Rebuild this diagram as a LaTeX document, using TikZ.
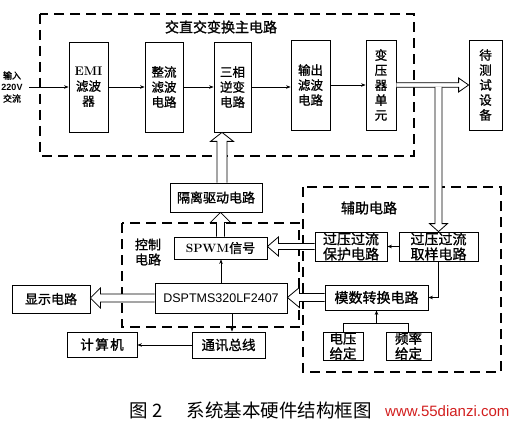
\documentclass[tikz,border=0pt]{standalone}
\usepackage{fontspec}
\setsansfont{Liberation Sans}
\newfontfamily\cjk[FakeBold=1.2]{Noto Sans CJK SC}
\newfontfamily\cjkr{Noto Sans CJK SC}
\usetikzlibrary{calc,arrows.meta}
\definecolor{wmred}{RGB}{210,30,30}
\tikzset{
 box/.style={draw, line width=0.8pt, inner sep=0pt, align=center, font=\cjk\fontsize{12.5}{15}\selectfont},
 dbox/.style={line width=1.2pt, dash pattern=on 10pt off 6pt},
 thinarr/.style={line width=0.7pt, -{Stealth[length=4.5pt,width=3.5pt]}},
 hollowline/.style={draw, fill=white, line width=0.8pt, line join=miter},
 lbl/.style={inner sep=0pt, align=center, font=\cjk\fontsize{13}{15}\selectfont}
}
\newcommand\hollowarr[5]{%
 \coordinate (hh) at ($(#2)!#5!(#1)$);
 \filldraw[hollowline] ($(#1)!#3!90:(#2)$) -- ($(hh)!#3!90:(#2)$) -- ($(hh)!#4!90:(#2)$) -- (#2) -- ($(hh)!#4!-90:(#2)$) -- ($(hh)!#3!-90:(#2)$) -- ($(#1)!#3!-90:(#2)$);
}
\begin{document}
\begin{tikzpicture}[x=1pt,y=-1pt]
\useasboundingbox (0,0) rectangle (519,422);
% main converter
\draw[dbox] (40,14) rectangle (414,156);
\node[lbl, font=\cjk\fontsize{14}{16}\selectfont] (t1) at (221,27) {交直交变换主电路};
\node[box, minimum width=39pt, minimum height=90pt] (emi) at (88.5,87) {{\rmfamily\bfseries\fontsize{12.5}{15}\selectfont EMI}\\滤波\\器};
\node[box, minimum width=38pt, minimum height=90pt] (zl) at (164,87) {整流\\滤波\\电路};
\node[box, minimum width=37pt, minimum height=90pt] (nb) at (232.5,87) {三相\\逆变\\电路};
\node[box, minimum width=39pt, minimum height=90pt] (sc) at (310.5,85) {输出\\滤波\\电路};
\node[box, minimum width=30pt, minimum height=90pt] (tr) at (381,85) {变\\压\\器\\单\\元};
\node[box, minimum width=33pt, minimum height=90pt] (dev) at (485.5,85) {待\\测\\试\\设\\备};
\node[lbl, font=\cjk\fontsize{9}{11.5}\selectfont] (inl) at (12,87) {输入\\{\sffamily\bfseries 220V}\\交流};
\coordinate (inp) at (29,87);
\draw[thinarr] (inp) -- (emi.west);
\draw[thinarr] (emi.east) -- (zl.west);
\draw[thinarr] (zl.east) -- (nb.west);
\draw[thinarr] (nb.east) -- (nb.east -| sc.west);
\draw[thinarr] (sc.east) -- (tr.west);
% control
\draw[dbox] (122,223) rectangle (299,327);
\node[lbl] (kz) at (148,252) {控制\\电路};
\node[box, minimum width=92pt, minimum height=29pt, font=\cjk\fontsize{13}{15}\selectfont] (gl) at (216,197.5) {隔离驱动电路};
\node[box, minimum width=93pt, minimum height=22pt, font=\cjk\fontsize{13}{15}\selectfont] (spwm) at (220.5,248) {{\rmfamily\bfseries\fontsize{12}{14}\selectfont SPWM}信号};
\node[box, minimum width=132pt, minimum height=30pt, font=\sffamily\fontsize{12.5}{15}\selectfont] (dsp) at (221,298) {DSPTMS320LF2407};
\node[box, minimum width=78pt, minimum height=28pt, font=\cjk\fontsize{13}{15}\selectfont] (disp) at (51,299) {显示电路};
\node[box, minimum width=73pt, minimum height=26pt, font=\cjk\fontsize{13.5}{15}\selectfont] (bus) at (228.5,345) {通讯总线};
\node[box, minimum width=70pt, minimum height=25pt, font=\cjk\fontsize{13.5}{15}\selectfont] (pc) at (102,344.5) {计\hspace{1.5pt}算\hspace{1.5pt}机};
% auxiliary
\draw[dbox] (303,187) rectangle (501,372);
\node[lbl, font=\cjk\fontsize{14}{16}\selectfont] (fz) at (369,208) {辅助电路};
\node[box, minimum width=72pt, minimum height=29pt, font=\cjk\fontsize{14}{15}\selectfont] (prot) at (351,246.5) {过压过流\\保护电路};
\node[box, minimum width=79pt, minimum height=29pt, font=\cjk\fontsize{14}{15}\selectfont] (smp) at (438.5,246.5) {过压过流\\取样电路};
\node[box, minimum width=103pt, minimum height=25pt, font=\cjk\fontsize{14}{15}\selectfont] (adc) at (376.5,297.5) {模数转换电路};
\node[box, minimum width=40pt, minimum height=28pt, font=\cjk\fontsize{13.5}{15}\selectfont] (vset) at (343,346) {电压\\给定};
\node[box, minimum width=45pt, minimum height=28pt, font=\cjk\fontsize{13.5}{15}\selectfont] (fset) at (408.5,346) {频率\\给定};
% thin connectors
\draw[thinarr] (dsp.north) -- (dsp.north |- spwm.south);
\coordinate (f1) at ($(dsp.south)+(11,0)$);
\draw[thinarr] (f1) -- (f1 |- bus.north);
\draw[thinarr] (bus.west) -- (bus.west -| pc.east);
\draw[thinarr] (smp.west) -- (prot.east);
\draw[thinarr] (smp.south) |- (adc.east);
\coordinate (j) at ($(adc.south)+(0,13)$);
\draw[line width=0.7pt] (vset.north) |- (j) -| (fset.north);
\draw[thinarr] (j) -- (adc.south);
% hollow arrows
\coordinate (a1) at (tr.east);
\coordinate (a2) at (tr.east -| dev.west);
\hollowarr{a1}{a2}{2.3pt}{7pt}{10pt}
\coordinate (b1) at ($(tr.east -| smp.north)+(0,1.8)$);
\coordinate (b2) at (smp.north);
\hollowarr{b1}{b2}{3.5pt}{9pt}{8pt}
\coordinate (c1) at ($(gl.north)+(6,0)$);
\coordinate (c2) at (c1 |- nb.south);
\hollowarr{c1}{c2}{5pt}{11.5pt}{9pt}
\coordinate (d1) at (spwm.north);
\coordinate (d2) at (spwm.north |- gl.south);
\hollowarr{d1}{d2}{4pt}{10pt}{10pt}
\coordinate (e1) at (dsp.west);
\coordinate (e2) at (dsp.west -| disp.east);
\hollowarr{e1}{e2}{4pt}{10pt}{10pt}
\coordinate (g1) at (prot.west);
\coordinate (g2) at (prot.west -| spwm.east);
\hollowarr{g1}{g2}{3pt}{9.5pt}{11pt}
\coordinate (h1) at (adc.west);
\coordinate (h2) at (adc.west -| dsp.east);
\hollowarr{h1}{h2}{4pt}{10pt}{12pt}
% caption
\node[anchor=west, inner sep=0pt, font=\cjkr\fontsize{18.5}{20}\selectfont] (cap) at (129,410) {图\hspace{5pt}2\hspace{24pt}系统基本硬件结构框图};
\node[anchor=west, inner sep=0pt, text=wmred, font=\sffamily\fontsize{15}{18}\selectfont] (wm) at (385,411) {www.55dianzi.com};
\end{tikzpicture}
\end{document}
